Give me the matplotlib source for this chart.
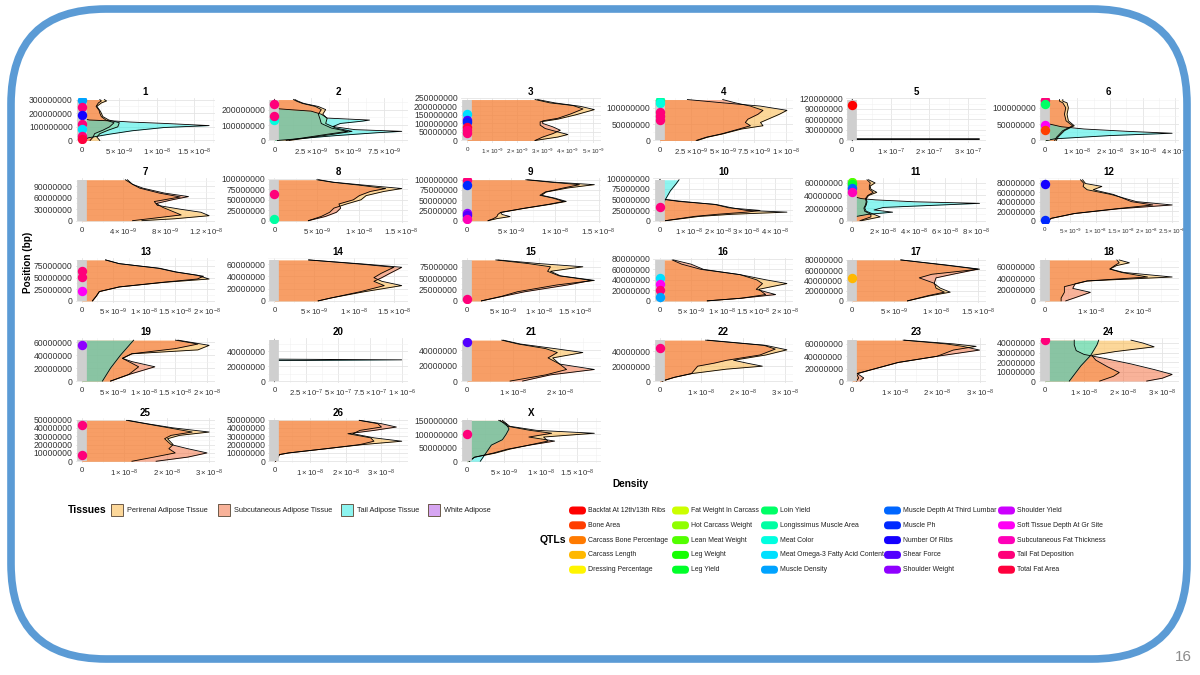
import matplotlib
matplotlib.use("Agg")
import matplotlib.pyplot as plt
import numpy as np
from matplotlib.patches import Rectangle, FancyBboxPatch
from matplotlib.ticker import FixedLocator, FuncFormatter, MultipleLocator
from matplotlib.colors import hsv_to_rgb

plt.rcParams['font.family'] = ['Liberation Sans', 'DejaVu Sans']
plt.rcParams['mathtext.fontset'] = 'custom'
plt.rcParams['mathtext.rm'] = 'Liberation Sans'
plt.rcParams['mathtext.it'] = 'Liberation Sans:italic'

# ---- data ----------------------------------------------------------------
chroms = ['1', '2', '3', '4', '5', '6', '7', '8', '9', '10', '11', '12', '13', '14',
          '15', '16', '17', '18', '19', '20', '21', '22', '23', '24', '25', '26', 'X']
# chromosome length (Mb)
chrom_len = [300, 265, 240, 125, 117, 125, 107, 98, 100, 96, 65, 86, 88, 67,
             90, 78, 80, 72, 63, 55, 53, 55, 66, 43, 49, 49, 152]
# y tick step (Mb) and x tick step (1e-9)
ytick_step = [100, 100, 50, 50, 30, 50, 30, 25, 25, 25, 20, 20, 25, 20,
              25, 20, 20, 20, 20, 20, 20, 20, 20, 10, 10, 10, 50]
xtick_step = [5, 2.5, 1, 2.5, 100, 10, 4, 5, 5, 10, 20, 5, 5, 5,
              5, 5, 5, 10, 5, 250, 10, 10, 10, 10, 10, 10, 5]

# density profiles: (position Mb, density x1e-9)
perirenal = {
    '1': [(0, 2.4), (25, 2.0), (50, 2.4), (75, 3.5), (100, 4.8), (130, 5.0), (150, 3.6), (175, 2.8),
          (200, 2.6), (220, 2.4), (250, 2.0), (275, 2.6), (290, 3.3), (300, 3.0)],
    '2': [(0, 1.0), (20, 2.5), (40, 4.0), (59, 5.3), (80, 4.2), (110, 3.5), (143, 3.6), (170, 3.3),
          (200, 3.5), (220, 3.0), (240, 2.0), (255, 1.6), (265, 1.4)],
    '3': [(0, 2.7), (20, 3.6), (35, 4.0), (50, 3.6), (70, 3.1), (90, 2.9), (109, 2.9), (125, 3.6),
          (150, 4.3), (181, 5.05), (200, 4.5), (220, 3.5), (240, 2.8)],
    '4': [(0, 3.0), (10, 3.8), (20, 5.0), (35, 6.5), (45, 8.2), (55, 8.0), (65, 8.6), (80, 9.5),
          (92, 10.1), (105, 8.0), (115, 5.0), (125, 2.2)],
    '6': [(0, 3.5), (10, 4.0), (30, 6.0), (45, 9.0), (60, 7.2), (80, 6.8), (100, 7.2), (115, 6.8),
          (120, 5.5), (125, 5.5)],
    '7': [(0, 5.8), (5, 9.0), (13, 12.3), (22, 11.5), (30, 9.5), (40, 7.3), (50, 7.0), (62, 9.5),
          (72, 7.5), (85, 5.6), (95, 4.9), (107, 4.4)],
    '8': [(0, 4.0), (10, 5.5), (20, 6.5), (30, 7.0), (40, 8.5), (50, 10.2), (60, 10.8), (70, 12.9),
          (77, 15.0), (85, 10.6), (92, 7.0), (98, 5.2)],
    '9': [(0, 2.4), (5, 3.4), (10, 4.9), (15, 4.0), (20, 3.8), (30, 6.5), (40, 9.5), (47, 11.3),
          (55, 10.0), (62, 8.5), (70, 9.0), (80, 11.5), (88, 14.5), (94, 10.0), (100, 6.9)],
    '10': [(0, 2.0), (5, 8.0), (10, 13.7), (15, 25.0), (20, 44.0), (24, 30.0), (30, 25.0), (38, 19.5),
           (45, 6.7), (50, 1.4), (60, 0.3), (96, 0.1)],
    '11': [(0, 6.0), (6, 18.0), (10, 14.0), (15, 9.0), (20, 8.0), (25, 9.0), (30, 9.5), (35, 9.0),
           (40, 10.5), (45, 15.8), (50, 12.0), (55, 11.5), (60, 14.7), (65, 10.5)],
    '12': [(0, 0.6), (5, 1.3), (15, 5.8), (25, 14.0), (33, 21.2), (40, 17.0), (55, 13.5), (65, 9.5),
           (72, 11.2), (78, 8.0), (86, 7.4)],
    '13': [(0, 1.7), (10, 2.3), (20, 2.8), (30, 6.0), (40, 13.3), (47, 20.4), (55, 18.5), (62, 15.0),
           (70, 12.3), (80, 6.0), (88, 3.8)],
    '14': [(0, 5.5), (5, 7.2), (15, 11.3), (25, 16.0), (32, 13.5), (38, 12.5), (45, 13.4), (55, 15.0),
           (60, 11.0), (67, 4.3)],
    '15': [(0, 2.0), (10, 4.8), (20, 7.0), (35, 12.5), (45, 17.7), (55, 13.0), (65, 11.6), (75, 16.1),
           (82, 10.0), (90, 4.3)],
    '16': [(0, 7.6), (5, 13.0), (12, 16.9), (22, 15.8), (33, 20.3), (40, 17.0), (50, 12.8), (60, 6.6),
           (70, 3.5), (78, 2.0)],
    '17': [(0, 6.6), (10, 9.3), (17, 11.7), (25, 10.5), (35, 9.7), (45, 8.0), (52, 9.5), (62, 15.2),
           (70, 11.3), (80, 5.8)],
    '18': [(0, 3.5), (5, 3.5), (15, 4.2), (25, 4.2), (35, 9.1), (42, 27.4), (50, 17.0), (56, 14.0),
           (62, 15.4), (67, 18.2), (72, 16.0)],
    '19': [(0, 4.6), (10, 7.5), (22, 9.1), (35, 6.5), (42, 8.0), (48, 18.6), (55, 20.4), (63, 15.4)],
    '21': [(0, 9.3), (8, 17.0), (15, 21.5), (22, 20.0), (30, 18.5), (37, 25.0), (42, 19.0), (48, 11.5),
           (53, 7.8)],
    '22': [(0, 0.6), (5, 3.5), (10, 7.6), (16, 16.0), (20, 24.6), (24, 21.0), (28, 17.7), (35, 25.4),
           (42, 30.5), (48, 25.4), (55, 11.5)],
    '23': [(0, 1.0), (5, 1.5), (12, 1.0), (20, 5.4), (30, 10.8), (40, 20.0), (50, 23.8), (56, 29.2),
           (60, 23.8), (66, 12.3)],
    '24': [(0, 14.0), (5, 17.5), (9, 19.0), (15, 16.0), (22, 13.0), (27, 12.0), (31, 18.0), (36, 27.9),
           (40, 25.0), (43, 22.0)],
    '25': [(0, 11.8), (5, 17.0), (10, 22.0), (15, 20.5), (20, 21.5), (27, 20.2), (31, 23.0), (35, 30.0),
           (40, 21.5), (45, 15.3), (49, 10.9)],
    '26': [(0, 0.3), (8, 1.4), (10, 4.0), (15, 14.4), (20, 24.8), (24, 35.7), (28, 28.0), (33, 22.0),
           (37, 24.0), (41, 30.0), (45, 29.0), (49, 23.8)],
    'X': [(0, 0.3), (15, 1.0), (30, 3.8), (45, 5.8), (60, 8.4), (75, 11.0), (90, 10.4), (104, 17.3),
          (115, 9.4), (130, 5.8), (152, 4.8)],
}
subcutaneous = {
    '1': [(0, 1.1), (25, 1.5), (50, 1.7), (75, 2.8), (100, 3.7), (130, 4.3), (150, 3.2), (175, 2.6),
          (200, 2.4), (220, 2.3), (250, 1.9), (275, 2.2), (290, 2.6), (300, 2.4)],
    '2': [(0, 0.8), (20, 2.2), (40, 3.6), (59, 5.0), (80, 3.9), (110, 3.2), (143, 3.1), (170, 3.0),
          (200, 3.2), (220, 2.8), (240, 1.9), (255, 1.5), (265, 1.3)],
    '3': [(0, 2.7), (20, 3.0), (40, 3.4), (60, 3.7), (80, 3.4), (100, 3.0), (115, 3.0), (130, 3.6),
          (155, 4.1), (185, 4.6), (205, 4.2), (220, 3.3), (240, 2.7)],
    '4': [(0, 2.9), (10, 3.7), (20, 4.9), (35, 6.3), (45, 7.2), (55, 6.8), (65, 7.0), (80, 7.8),
          (92, 8.2), (105, 7.2), (115, 6.0), (125, 5.0)],
    '6': [(0, 3.0), (10, 3.6), (30, 5.5), (45, 8.5), (60, 6.5), (80, 6.0), (100, 6.4), (115, 5.5),
          (120, 4.5), (125, 4.5)],
    '7': [(0, 4.9), (5, 6.5), (15, 9.6), (25, 8.7), (35, 7.8), (45, 7.2), (55, 8.8), (63, 10.3),
          (72, 8.0), (85, 5.9), (95, 4.9), (107, 4.2)],
    '8': [(0, 4.0), (10, 6.0), (20, 7.3), (30, 7.8), (40, 7.6), (50, 9.3), (60, 10.0), (70, 11.3),
          (77, 13.1), (85, 10.0), (92, 6.8), (98, 5.0)],
    '9': [(0, 2.4), (5, 3.0), (10, 3.4), (15, 3.5), (20, 3.8), (30, 6.4), (40, 9.3), (47, 11.0),
          (55, 9.8), (62, 8.3), (70, 8.9), (80, 11.0), (88, 12.8), (94, 9.5), (100, 6.7)],
    '10': [(0, 2.0), (5, 7.0), (10, 12.0), (15, 20.0), (20, 30.0), (24, 34.7), (30, 24.0), (38, 19.0),
           (45, 8.0), (50, 1.5), (60, 0.3), (96, 0.1)],
    '11': [(0, 5.0), (6, 12.0), (10, 12.0), (15, 8.0), (20, 7.5), (25, 8.5), (30, 9.0), (35, 8.5),
           (40, 10.0), (45, 13.5), (50, 11.0), (55, 11.0), (60, 11.6), (65, 9.5)],
    '12': [(0, 0.6), (5, 1.3), (15, 5.8), (25, 14.5), (33, 25.0), (40, 18.0), (55, 13.0), (65, 8.3),
           (72, 7.5), (78, 7.7), (86, 7.0)],
    '13': [(0, 1.7), (10, 2.3), (20, 2.8), (30, 6.0), (40, 13.0), (47, 18.5), (53, 19.5), (62, 15.2),
           (70, 12.5), (80, 6.0), (88, 3.8)],
    '14': [(0, 5.5), (5, 7.2), (15, 10.8), (25, 13.8), (32, 12.5), (38, 13.5), (45, 14.5), (55, 16.0),
           (60, 11.5), (67, 4.3)],
    '15': [(0, 2.0), (10, 5.0), (20, 8.0), (35, 14.0), (45, 17.3), (55, 12.8), (65, 11.2), (75, 11.6),
           (82, 8.5), (90, 4.0)],
    '16': [(0, 7.6), (5, 13.0), (12, 18.5), (22, 15.4), (33, 16.4), (40, 15.5), (50, 12.8), (60, 7.0),
           (70, 5.0), (78, 2.2)],
    '17': [(0, 6.6), (10, 9.0), (17, 11.0), (25, 10.0), (35, 9.8), (45, 10.0), (52, 12.0), (62, 15.0),
           (70, 11.0), (80, 5.8)],
    '18': [(0, 4.5), (5, 6.3), (15, 9.8), (22, 6.0), (30, 6.5), (35, 9.1), (42, 22.1), (50, 16.5),
           (56, 14.0), (62, 15.0), (67, 16.0), (72, 15.5)],
    '19': [(0, 4.6), (10, 7.5), (22, 11.7), (30, 8.0), (35, 6.5), (42, 8.0), (50, 15.0), (57, 18.6),
           (63, 15.0)],
    '21': [(0, 12.0), (8, 18.0), (15, 27.5), (22, 20.0), (30, 17.5), (37, 19.5), (42, 17.0), (48, 11.0),
           (53, 7.5)],
    '22': [(0, 0.6), (5, 3.5), (10, 7.6), (16, 8.5), (20, 9.1), (24, 13.0), (28, 16.1), (35, 24.0),
           (43, 27.7), (48, 25.0), (55, 11.0)],
    '23': [(0, 1.9), (5, 2.7), (12, 1.2), (20, 5.4), (30, 10.8), (40, 20.0), (50, 30.0), (56, 26.0),
           (60, 22.0), (66, 12.0)],
    '24': [(0, 26.0), (3, 30.0), (7, 32.5), (12, 28.0), (18, 22.0), (24, 15.0), (28, 10.0), (32, 8.0),
           (38, 7.5), (43, 7.5)],
    '25': [(0, 17.5), (5, 25.0), (10, 29.5), (15, 25.0), (20, 21.0), (27, 19.5), (31, 21.0), (35, 26.0),
           (40, 20.5), (45, 15.0), (49, 10.5)],
    '26': [(0, 0.3), (8, 1.4), (10, 4.0), (15, 14.4), (20, 24.0), (24, 27.9), (28, 27.0), (33, 20.6),
           (37, 28.0), (41, 34.2), (45, 30.0), (49, 23.8)],
    'X': [(0, 0.3), (15, 1.0), (30, 3.5), (45, 5.5), (60, 8.5), (75, 11.9), (90, 8.4), (104, 11.5),
          (115, 8.5), (130, 5.5), (152, 4.5)],
}
tail = {
    '1': [(0, 0), (20, 0.9), (46, 3.7), (71, 6.7), (95, 11.0), (109, 17.0), (125, 11.0), (135, 6.5),
          (142, 4.5), (150, 1.0), (160, 0.2), (180, 0), (300, 0)],
    '2': [(0, 0.2), (10, 1.5), (30, 4.0), (50, 7.0), (59, 8.7), (70, 5.5), (90, 4.0), (110, 4.5),
          (125, 6.0), (132, 6.5), (145, 3.6), (170, 3.2), (190, 2.5), (200, 1.0), (205, 0.3), (220, 0), (265, 0)],
    '5': [(0, 0), (3.0, 0), (4.0, 330), (5.0, 0), (117, 0)],
    '6': [(0, 0.5), (5, 3.0), (15, 20.0), (22, 39.0), (28, 25.0), (35, 12.0), (42, 5.0), (50, 1.5),
          (60, 0.3), (80, 0), (125, 0)],
    '10': [(0, 0), (20, 0.2), (35, 0.8), (50, 2.0), (70, 3.7), (85, 5.5), (96, 6.7)],
    '11': [(0, 0), (6, 1.0), (10, 10.0), (13.5, 26.0), (17, 14.0), (21, 20.0), (27.5, 82.0), (30, 40.0),
           (33, 15.0), (35, 6.0), (38, 1.0), (42, 0), (65, 0)],
    '19': [(0, 3.3), (20, 4.6), (40, 6.2), (63, 8.3)],
    '20': [(0, 0), (27.5, 0), (28.5, 1000), (29.5, 0), (55, 0)],
    '24': [(0, 6.25), (16, 9.2), (27, 11.7), (38, 13.3), (43, 13.75)],
    'X': [(0, 1.8), (20, 2.3), (40, 2.8), (60, 3.3), (80, 4.8), (100, 5.3), (120, 5.7), (140, 5.3), (152, 4.3)],
}

# QTL dots: (position Mb, QTL index)
qtl_dots = {
    '1': [(300, 14), (244, 23), (186, 17), (122, 23), (84, 13), (33, 23), (13, 24)],
    '2': [(132, 12), (234, 23), (159, 23)],
    '3': [(156, 13), (120, 18), (107, 16), (78, 24), (62, 23), (42, 23)],
    '4': [(124, 11), (113, 12), (87, 23), (76, 23), (63, 23)],
    '5': [(102, 0)],
    '6': [(125, 23), (112, 10), (48, 21), (33, 1)],
    '8': [(63, 23), (5, 11)],
    '9': [(100, 23), (88, 16), (18, 19), (14, 18), (4, 22)],
    '10': [(33, 23)],
    '11': [(62, 7), (58, 9), (52, 15), (46, 22)],
    '12': [(77, 17), (1, 16)],
    '13': [(65, 23), (52, 23), (22, 21)],
    '15': [(3, 23)],
    '16': [(43, 13), (33, 21), (21, 23), (7, 14)],
    '17': [(45, 3)],
    '19': [(55, 19)],
    '21': [(50, 18)],
    '22': [(44, 23)],
    '24': [(43, 23)],
    '25': [(43, 23), (8, 23)],
    'X': [(100, 23)],
}

tissues = ['Perirenal Adipose Tissue', 'Subcutaneous Adipose Tissue',
           'Tail Adipose Tissue', 'White Adipose']
tissue_colors = ['#FBB135', '#F36735', '#1DEBE1', '#AF4DE5']

qtl_names = ['Backfat At 12th/13th Ribs', 'Bone Area', 'Carcass Bone Percentage', 'Carcass Length',
             'Dressing Percentage', 'Fat Weight In Carcass', 'Hot Carcass Weight', 'Lean Meat Weight',
             'Leg Weight', 'Leg Yield', 'Loin Yield', 'Longissimus Muscle Area', 'Meat Color',
             'Meat Omega-3 Fatty Acid Content', 'Muscle Density', 'Muscle Depth At Third Lumbar',
             'Muscle Ph', 'Number Of Ribs', 'Shear Force', 'Shoulder Weight', 'Shoulder Yield',
             'Soft Tissue Depth At Gr Site', 'Subcutaneous Fat Thickness', 'Tail Fat Deposition',
             'Total Fat Area']
# rainbow palette like R's rainbow(n)
n_q = len(qtl_names)
qtl_colors = [hsv_to_rgb((i / n_q, 1, 1)) for i in range(n_q)]


def sci_label(v):
    if v == 0:
        return '0'
    val = v * 1e-9
    e = int(np.floor(np.log10(val) + 1e-9))
    m = round(val / 10 ** e, 3)
    return r'$%s\times10^{%d}$' % ('%g' % m, e)


# ---- figure ----------------------------------------------------------------
W, H = 1200, 675
fig = plt.figure(figsize=(12, 6.75), dpi=100)
fig.patch.set_facecolor('white')


def px_axes(left, top, w, h):
    return fig.add_axes([left / W, 1 - (top + h) / H, w / W, h / H])


for i, ch in enumerate(chroms):
    r, c = divmod(i, 6)
    zero_x = 82.5 + 192.6 * c
    top = 97.5 + 80.2 * r
    ax = px_axes(zero_x - 7, top, 140, 45)
    L = chrom_len[i]

    curves = [perirenal.get(ch), subcutaneous.get(ch), tail.get(ch)]
    M = max(max(d for _, d in cv) for cv in curves if cv is not None)

    for cv, col in zip(curves, tissue_colors):
        if cv is None:
            continue
        pos = np.array([p for p, _ in cv]) * 1e6
        dens = np.array([d for _, d in cv])
        ax.fill_betweenx(pos, 0, dens, color=col, alpha=0.5, lw=0, zorder=2)
        ax.plot(dens, pos, color='black', lw=0.6, zorder=3)

    # chromosome bar + QTL dots
    ax.plot([0, 0], [0, L * 1e6], color='#cfcfcf', lw=7, solid_capstyle='butt', zorder=5)
    for p, q in qtl_dots.get(ch, []):
        ax.scatter(0, p * 1e6, s=46, color=qtl_colors[q], lw=0, zorder=6)

    ax.set_xlim(-0.05 * M, 1.05 * M)
    ax.set_ylim(-0.05 * L * 1e6, 1.05 * L * 1e6)

    xs = xtick_step[i]
    xt = np.arange(0, 1.05 * M + 1e-9, xs)
    ax.xaxis.set_major_locator(FixedLocator(xt))
    ax.xaxis.set_minor_locator(MultipleLocator(xs / 2))
    ax.set_xticklabels([sci_label(v) for v in xt])
    ys = ytick_step[i] * 1e6
    yt = np.arange(0, 1.05 * L * 1e6 + 1, ys)
    ax.yaxis.set_major_locator(FixedLocator(yt))
    ax.yaxis.set_minor_locator(MultipleLocator(ys / 2))
    ax.yaxis.set_major_formatter(FuncFormatter(lambda v, _: '%d' % round(v)))

    # crowded panels get slightly smaller x labels
    xsize = 4.5 if len(xt) > 5 else 5.6
    ax.tick_params(axis='both', which='both', length=0, colors='#333333', pad=2)
    ax.tick_params(axis='y', labelsize=6.2)
    ax.tick_params(axis='x', labelsize=xsize, pad=3)
    ax.grid(which='major', color='#e4e4e4', lw=0.6, zorder=0)
    ax.grid(which='minor', color='#f1f1f1', lw=0.4, zorder=0)
    ax.set_axisbelow(True)
    for s in ax.spines.values():
        s.set_visible(False)
    ax.set_title(ch, fontsize=7, fontweight='bold', pad=2)

# overlay for labels, legends and slide frame
bg = fig.add_axes([0, 0, 1, 1])
bg.set_xlim(0, W)
bg.set_ylim(H, 0)
bg.axis('off')
bg.patch.set_visible(False)

bg.text(28, 262, 'Position (bp)', rotation=90, ha='center', va='center',
        fontsize=7.2, fontweight='bold')
bg.text(630, 484, 'Density', ha='center', va='center', fontsize=7.2, fontweight='bold')

# tissues legend
bg.text(107, 510, 'Tissues', ha='right', va='center', fontsize=7.5, fontweight='bold')
key_x = [111, 218, 341, 428]
for kx, name, col in zip(key_x, tissues, tissue_colors):
    bg.add_patch(Rectangle((kx, 504), 12, 12, facecolor=col, alpha=0.5, lw=0))
    bg.add_patch(Rectangle((kx, 504), 12, 12, facecolor='none', edgecolor='#6b5a4a', lw=0.7))
    bg.text(kx + 16, 510, name, ha='left', va='center', fontsize=5.3, color='#222222')

# QTL legend
bg.text(566, 540, 'QTLs', ha='right', va='center', fontsize=7.5, fontweight='bold')
col_x = [569, 672, 761, 884, 998]
row_y = [510.5, 525.3, 540.1, 554.9, 569.7]
for k, (name, col) in enumerate(zip(qtl_names, qtl_colors)):
    cx = col_x[k // 5]
    cy = row_y[k % 5]
    bg.add_patch(FancyBboxPatch((cx, cy - 4), 17, 8, boxstyle='round,pad=0,rounding_size=4',
                                facecolor=col, lw=0))
    bg.text(cx + 19, cy, name, ha='left', va='center', fontsize=4.95, color='#222222')

# slide frame
bg.add_patch(FancyBboxPatch((11, 9), 1176, 650, boxstyle='round,pad=0,rounding_size=95',
                            facecolor='none', edgecolor='#5B9BD5', lw=5.5, zorder=10))
bg.text(1183, 657, '16', ha='center', va='center', fontsize=11, color='#8c8c8c')

fig.savefig('out.png', dpi=100)
